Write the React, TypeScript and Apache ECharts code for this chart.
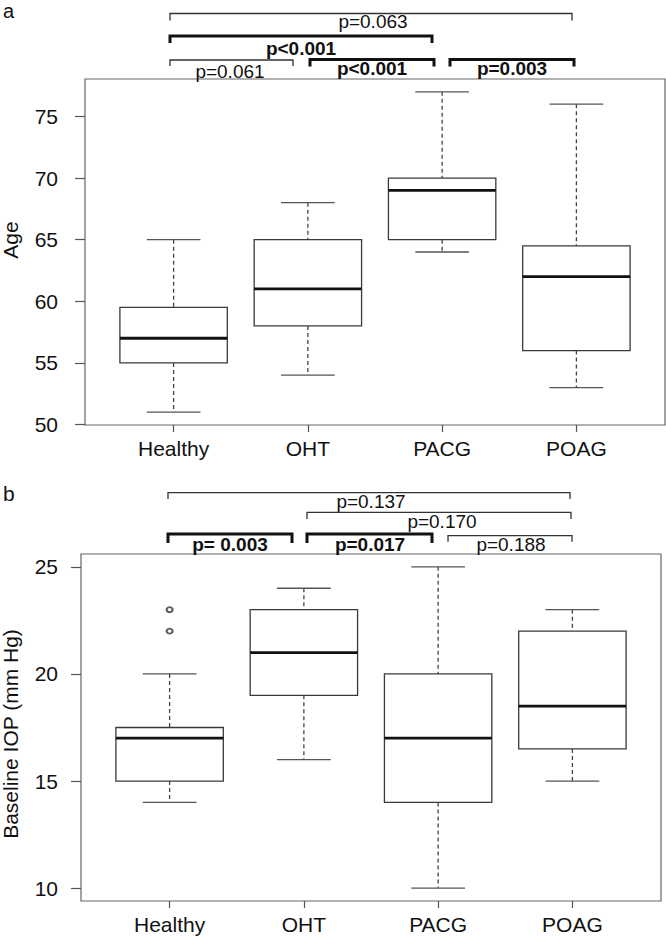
import React, { useEffect, useRef } from "react";
import * as echarts from "echarts";

// ---------- data ----------
const categories = ["Healthy", "OHT", "PACG", "POAG"];
// [lower whisker, Q1, median, Q3, upper whisker]
const ageBoxes = [
  [51, 55, 57, 59.5, 65],
  [54, 58, 61, 65, 68],
  [64, 65, 69, 70, 77],
  [53, 56, 62, 64.5, 76],
];
const iopBoxes = [
  [14, 15, 17, 17.5, 20],
  [16, 19, 21, 23, 24],
  [10, 14, 17, 20, 25],
  [15, 16.5, 18.5, 22, 23],
];
// [group position, value]
const iopOutliers = [
  [1, 22],
  [1, 23],
];
const ageTicks = [50, 55, 60, 65, 70, 75];
const iopTicks = [10, 15, 20, 25];
const groupPositions = [1, 2, 3, 4];

const ageLabels = ["p=0.063", "p<0.001", "p=0.061", "p<0.001", "p=0.003"];
const ageBold = [false, true, false, true, true];
const iopLabels = ["p=0.137", "p=0.170", "p= 0.003", "p=0.017", "p=0.188"];
const iopBold = [false, false, true, true, false];

// ---------- layout (pixels) ----------
// [x1, x2, lineY, tickY, labelCenterY, labelX]
const ageBracketLayout = [
  [170, 572, 13.5, 20.5, 21.5, 373],
  [170, 432, 36, 43, 48.5, 301],
  [170, 293, 60, 66, 71, 230],
  [310, 434, 59.5, 66.5, 68, 372],
  [450, 574, 59.5, 66.5, 68, 512],
];
const iopBracketLayout = [
  [168, 570, 492.7, 499, 501, 371],
  [307, 571, 512.3, 519, 521, 442],
  [168, 292, 534, 543, 544.5, 230],
  [307, 432, 534, 543, 544, 370],
  [448, 572, 535.7, 541.7, 544, 511],
];

const FONT = "'Liberation Sans', Arial, Helvetica, sans-serif";

function bracketGraphics(labels: string[], bold: boolean[], layout: number[][]) {
  const out: any[] = [];
  labels.forEach((lab, i) => {
    const [x1, x2, y, ty, ly, lx] = layout[i];
    out.push({
      type: "polyline",
      shape: { points: [[x1, ty], [x1, y], [x2, y], [x2, ty]] },
      style: {
        stroke: bold[i] ? "#111" : "#333",
        lineWidth: bold[i] ? 3 : 1.3,
        fill: null,
      },
    });
    out.push({
      type: "text",
      x: lx,
      y: ly,
      style: {
        text: lab,
        fontSize: 19,
        fontWeight: bold[i] ? "bold" : "normal",
        fontFamily: FONT,
        fill: "#111",
        align: "center",
        verticalAlign: "middle",
      },
    });
  });
  return out;
}

function renderBox(params: any, api: any) {
  const x = api.value(0);
  const lo = api.coord([x, api.value(1)]);
  const q1 = api.coord([x, api.value(2)]);
  const med = api.coord([x, api.value(3)]);
  const q3 = api.coord([x, api.value(4)]);
  const hi = api.coord([x, api.value(5)]);
  const bw = api.size([0.8, 0])[0];
  const cw = api.size([0.4, 0])[0];
  const cx = med[0];
  const dashed = { stroke: "#444", lineWidth: 1.3, lineDash: [4, 3] };
  const solid = { stroke: "#555", lineWidth: 1.3 };
  return {
    type: "group",
    children: [
      { type: "line", shape: { x1: cx, y1: hi[1], x2: cx, y2: q3[1] }, style: dashed },
      { type: "line", shape: { x1: cx, y1: q1[1], x2: cx, y2: lo[1] }, style: dashed },
      { type: "line", shape: { x1: cx - cw / 2, y1: hi[1], x2: cx + cw / 2, y2: hi[1] }, style: solid },
      { type: "line", shape: { x1: cx - cw / 2, y1: lo[1], x2: cx + cw / 2, y2: lo[1] }, style: solid },
      {
        type: "rect",
        shape: { x: cx - bw / 2, y: q3[1], width: bw, height: q1[1] - q3[1] },
        style: { fill: "#fff", stroke: "#3a3a3a", lineWidth: 1.3 },
      },
      {
        type: "line",
        shape: { x1: cx - bw / 2, y1: med[1], x2: cx + bw / 2, y2: med[1] },
        style: { stroke: "#111", lineWidth: 2.8 },
      },
    ],
  };
}

function xAxisDef(gridIndex: number) {
  return {
    type: "value",
    gridIndex,
    min: 0.34,
    max: 4.66,
    splitLine: { show: false },
    axisLine: { show: false },
    axisTick: {
      show: true,
      customValues: groupPositions,
      length: 7,
      lineStyle: { color: "#555", width: 1.2 },
    },
    axisLabel: {
      customValues: groupPositions,
      formatter: (v: number) => categories[Math.round(v) - 1] ?? "",
      fontSize: 21,
      fontFamily: FONT,
      color: "#111",
      margin: 13,
    },
  };
}

function yAxisDef(gridIndex: number, min: number, max: number, ticks: number[], margin: number) {
  return {
    type: "value",
    gridIndex,
    min,
    max,
    splitLine: { show: false },
    axisLine: { show: false },
    axisTick: {
      show: true,
      customValues: ticks,
      length: 10,
      lineStyle: { color: "#555", width: 1.2 },
    },
    axisLabel: {
      customValues: ticks,
      fontSize: 21,
      fontFamily: FONT,
      color: "#111",
      margin,
    },
  };
}

export default function App() {
  const ref = useRef<HTMLDivElement>(null);
  useEffect(() => {
    document.body.style.margin = "0";
    if (!ref.current) return;
    const chart = echarts.init(ref.current, null, { renderer: "svg" });
    const option: any = {
      animation: false,
      backgroundColor: "#fff",
      grid: [
        { left: 85, top: 79, width: 580, height: 346, show: true, borderColor: "#666", borderWidth: 1.2 },
        { left: 81, top: 554, width: 580, height: 347, show: true, borderColor: "#666", borderWidth: 1.2 },
      ],
      xAxis: [xAxisDef(0), xAxisDef(1)],
      yAxis: [
        yAxisDef(0, 49.96, 78.04, ageTicks, 27),
        yAxisDef(1, 9.4, 25.6, iopTicks, 23),
      ],
      series: [
        {
          type: "custom",
          xAxisIndex: 0,
          yAxisIndex: 0,
          renderItem: renderBox,
          encode: { x: 0, y: [1, 2, 3, 4, 5] },
          data: ageBoxes.map((b, i) => [groupPositions[i], ...b]),
        },
        {
          type: "custom",
          xAxisIndex: 1,
          yAxisIndex: 1,
          renderItem: renderBox,
          encode: { x: 0, y: [1, 2, 3, 4, 5] },
          data: iopBoxes.map((b, i) => [groupPositions[i], ...b]),
        },
        {
          type: "scatter",
          xAxisIndex: 1,
          yAxisIndex: 1,
          symbol: "emptyCircle",
          symbolSize: [6, 5],
          itemStyle: { color: "#333", borderWidth: 1 },
          data: iopOutliers,
        },
      ],
      graphic: [
        {
          type: "text",
          x: 3,
          y: 1,
          style: {
            text: "a",
            fontSize: 20,
            fontFamily: FONT,
            fill: "#111",
            align: "left",
            verticalAlign: "top",
          },
        },
        {
          type: "text",
          x: 3,
          y: 493.5,
          style: { text: "b", fontSize: 21, fontFamily: FONT, fill: "#111", align: "left", verticalAlign: "middle" },
        },
        {
          type: "text",
          x: 10,
          y: 240,
          rotation: Math.PI / 2,
          style: { text: "Age", fontSize: 21, fontFamily: FONT, fill: "#111", align: "center", verticalAlign: "middle" },
        },
        {
          type: "text",
          x: 10,
          y: 734,
          rotation: Math.PI / 2,
          style: {
            text: "Baseline IOP (mm Hg)",
            fontSize: 21,
            fontFamily: FONT,
            fill: "#111",
            align: "center",
            verticalAlign: "middle",
          },
        },
        ...bracketGraphics(ageLabels, ageBold, ageBracketLayout),
        ...bracketGraphics(iopLabels, iopBold, iopBracketLayout),
      ],
    };
    chart.setOption(option);
    return () => chart.dispose();
  }, []);
  return (
    <div
      ref={ref}
      style={{ width: 666, height: 938, position: "absolute", left: 0, top: 0 }}
    />
  );
}
